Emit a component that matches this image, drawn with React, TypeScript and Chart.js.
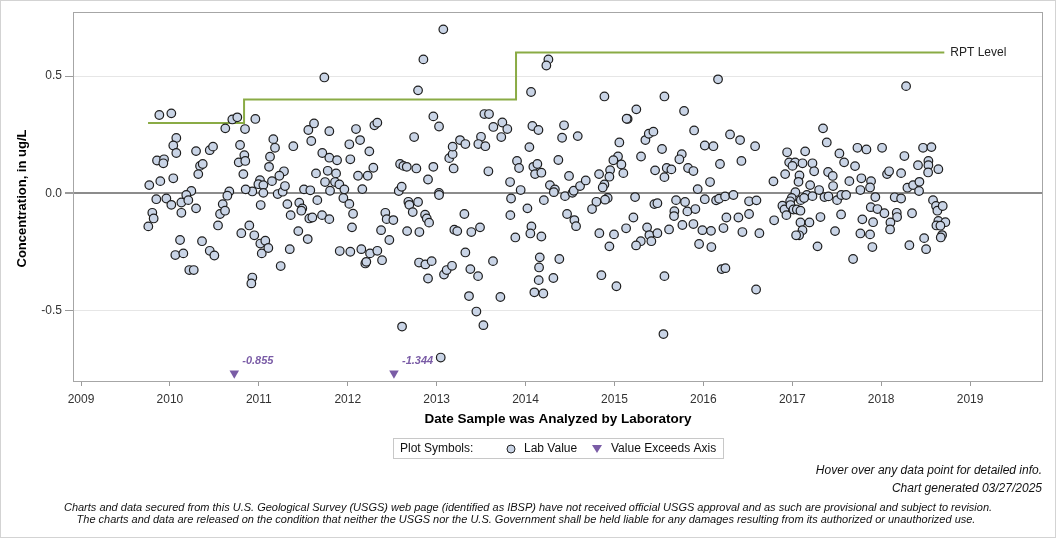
import React, { useEffect, useRef } from "react";
import { Chart, registerables } from "chart.js";

Chart.register(...registerables);

// Lab results: analysis date (decimal year) and concentration (ug/L)
const analysisDates: number[] = [
  2009.881, 2010.016, 2010.072, 2010.038, 2010.072, 2010.294, 2009.855, 2009.934, 2009.926, 2010.339,
  2010.369, 2010.319, 2010.038, 2009.768, 2009.892, 2010.241, 2010.184, 2009.847, 2009.960, 2010.016,
  2010.129, 2010.207, 2010.294, 2010.129, 2009.802, 2009.817, 2009.757, 2010.114, 2010.361, 2010.061,
  2010.151, 2010.218, 2010.268,
  2011.737, 2010.702, 2010.758, 2010.623, 2010.845, 2010.961, 2011.557, 2011.621, 2011.793, 2011.163,
  2011.182, 2011.388, 2011.590, 2010.789, 2010.448, 2010.485, 2010.837, 2010.774, 2010.848, 2011.126,
  2011.115, 2010.826, 2011.283, 2011.231, 2011.148, 2011.714, 2011.643, 2011.775, 2011.745, 2011.013,
  2010.995, 2011.051, 2011.051, 2010.927, 2010.852, 2010.668, 2010.646, 2011.212, 2011.268, 2011.294,
  2011.508, 2011.579, 2011.801, 2010.594, 2010.564, 2010.620, 2011.021, 2011.321, 2011.358, 2011.455,
  2011.489, 2011.478, 2011.658, 2011.568, 2011.602, 2011.711, 2011.793, 2010.541, 2010.803, 2010.893,
  2010.949, 2011.017, 2011.073, 2011.033, 2011.107, 2011.444, 2011.550, 2011.348, 2011.246, 2010.448,
  2010.500, 2010.927, 2010.916,
  2013.075, 2012.851, 2012.791, 2012.963, 2013.027, 2012.747, 2012.300, 2012.333, 2012.093, 2012.018,
  2012.139, 2012.243, 2012.029, 2011.793, 2011.880, 2011.869, 2011.857, 2011.906, 2011.962, 2012.116,
  2012.225, 2012.288, 2012.164, 2011.951, 2012.018, 2012.060, 2012.048, 2011.910, 2012.029, 2012.153,
  2012.251, 2012.333, 2012.198, 2012.209, 2012.386, 2012.375, 2012.468, 2012.423, 2012.438, 2012.513,
  2012.574, 2012.607, 2012.589, 2012.626, 2012.664, 2012.772, 2012.903, 2012.963, 2013.027, 2013.027,
  2012.682, 2012.693, 2012.731, 2012.791, 2012.870, 2012.889, 2012.915, 2012.668, 2012.806, 2012.802,
  2012.873, 2012.944, 2012.903, 2013.083, 2013.113, 2013.173, 2013.199, 2012.611, 2013.046, 2013.142,
  2013.180, 2013.180, 2013.191,
  2014.257, 2014.234, 2014.062, 2013.537, 2013.589, 2013.638, 2013.739, 2013.795, 2013.727, 2014.077,
  2014.145, 2014.433, 2014.411, 2014.587, 2013.263, 2013.323, 2013.499, 2013.469, 2013.548, 2013.582,
  2014.043, 2013.904, 2013.927, 2014.088, 2014.133, 2014.107, 2014.178, 2014.369, 2014.489, 2013.826,
  2013.945, 2013.837, 2014.206, 2014.274, 2014.330, 2014.318, 2014.444, 2014.527, 2014.542, 2014.613,
  2014.021, 2013.829, 2013.312, 2013.232, 2013.390, 2013.488, 2013.885, 2014.066, 2014.054, 2014.178,
  2014.467, 2014.549, 2014.568, 2013.323, 2013.634, 2013.379, 2013.466, 2014.160, 2014.152, 2014.148,
  2014.099, 2014.200, 2014.380, 2014.313, 2013.364, 2013.717, 2013.447, 2013.526,
  2014.887, 2015.562, 2015.246, 2015.148, 2015.137, 2015.783, 2015.896, 2016.016, 2015.348, 2015.386,
  2015.438, 2015.055, 2015.535, 2015.040, 2014.988, 2015.078, 2015.100, 2015.299, 2014.951, 2014.943,
  2014.887, 2014.868, 2014.827, 2014.677, 2015.457, 2015.562, 2015.588, 2015.640, 2015.757, 2015.730,
  2015.828, 2015.888, 2015.936, 2016.016, 2015.232, 2014.924, 2014.894, 2014.797, 2014.748, 2015.449,
  2015.483, 2015.693, 2015.794, 2015.674, 2015.670, 2015.820, 2015.910, 2015.213, 2015.131, 2014.830,
  2014.995, 2014.943, 2015.367, 2015.393, 2015.483, 2015.296, 2015.243, 2015.415, 2015.614, 2015.764,
  2015.888, 2015.989, 2015.952, 2014.853, 2015.022, 2015.562, 2015.551,
  2016.165, 2016.300, 2016.413, 2016.113, 2016.582, 2016.187, 2016.428, 2016.075, 2016.143, 2016.177,
  2016.244, 2016.338, 2016.086, 2016.090, 2016.259, 2016.226, 2016.394, 2016.514, 2016.597, 2016.514,
  2016.439, 2016.630, 2016.206, 2016.248, 2016.593, 2016.788, 2016.796, 2016.942, 2016.920, 2016.965,
  2017.032, 2017.002, 2017.115, 2017.145, 2017.227, 2017.246, 2017.081, 2017.070, 2017.201, 2017.403,
  2017.346, 2017.388, 2017.035, 2016.994, 2017.096, 2017.164, 2017.227, 2017.302, 2017.362, 2017.407,
  2017.133, 2016.889, 2016.912, 2016.934, 2016.976, 2016.980, 2017.013, 2017.051, 2017.092, 2017.092,
  2017.193, 2017.115, 2017.077, 2017.043, 2017.317, 2017.284,
  2018.280, 2017.530, 2017.583, 2017.733, 2017.834, 2018.010, 2017.706, 2018.261, 2018.471, 2018.565,
  2018.531, 2018.531, 2018.643, 2018.414, 2018.528, 2017.455, 2017.459, 2017.642, 2017.777, 2017.886,
  2017.875, 2017.766, 2018.066, 2018.089, 2018.224, 2018.295, 2018.359, 2018.430, 2018.426, 2017.504,
  2017.552, 2017.605, 2017.934, 2018.152, 2018.224, 2018.583, 2018.617, 2018.632, 2018.692, 2018.347,
  2017.883, 2017.958, 2018.036, 2018.175, 2018.179, 2018.104, 2018.100, 2017.549, 2017.788, 2017.909,
  2017.481, 2017.766, 2017.875, 2017.901, 2017.684, 2018.317, 2018.483, 2018.505, 2018.643, 2018.722,
  2018.621, 2018.666, 2018.685, 2018.670,
];

const labValues: number[] = [
  0.334, 0.341, 0.236, 0.204, 0.172, 0.180, 0.140, 0.145, 0.128, 0.117,
  0.125, 0.082, 0.064, 0.035, 0.052, 0.010, -0.007, -0.025, -0.022, -0.049,
  -0.039, -0.029, -0.064, -0.083, -0.083, -0.107, -0.141, -0.199, -0.204, -0.263,
  -0.256, -0.327, -0.327,
  0.494, 0.315, 0.324, 0.277, 0.274, 0.317, 0.270, 0.298, 0.265, 0.231,
  0.194, 0.201, 0.223, 0.206, 0.184, 0.199, 0.163, 0.132, 0.138, 0.156,
  0.113, 0.082, 0.094, 0.075, 0.052, 0.172, 0.085, 0.096, 0.048, 0.056,
  0.039, 0.035, 0.002, 0.008, 0.017, 0.008, -0.010, -0.003, 0.007, 0.031,
  0.017, 0.013, 0.011, -0.046, -0.088, -0.074, -0.050, -0.046, -0.093, -0.040,
  -0.064, -0.074, -0.029, -0.107, -0.103, -0.093, -0.110, -0.137, -0.170, -0.137,
  -0.179, -0.214, -0.202, -0.256, -0.233, -0.161, -0.195, -0.238, -0.310, -0.245,
  -0.265, -0.359, -0.384,
  0.699, 0.571, 0.439, 0.328, 0.285, 0.240, 0.290, 0.301, 0.274, 0.209,
  0.227, 0.179, 0.145, 0.152, 0.141, 0.085, 0.048, 0.038, 0.017, 0.075,
  0.075, 0.109, 0.018, -0.020, -0.045, -0.087, -0.145, -0.246, -0.249, -0.238,
  -0.256, -0.245, -0.299, -0.292, -0.285, -0.157, -0.199, -0.083, -0.110, -0.114,
  0.010, 0.028, 0.125, 0.117, 0.113, 0.106, 0.059, 0.113, 0.002, -0.007,
  -0.036, -0.049, -0.080, -0.037, -0.091, -0.107, -0.125, -0.161, -0.165, -0.295,
  -0.303, -0.289, -0.363, -0.346, -0.327, -0.309, -0.155, -0.568, -0.700, 0.150,
  0.167, 0.199, 0.106,
  0.571, 0.545, 0.432, 0.338, 0.338, 0.283, 0.302, 0.274, 0.240, 0.287,
  0.270, 0.290, 0.237, 0.244, 0.227, 0.210, 0.241, 0.210, 0.201, 0.094,
  0.197, 0.138, 0.108, 0.113, 0.125, 0.082, 0.088, 0.142, 0.074, 0.048,
  0.014, -0.022, -0.029, 0.035, 0.017, 0.005, -0.012, 0.002, 0.011, 0.031,
  -0.064, -0.093, -0.088, -0.161, -0.165, -0.145, -0.188, -0.141, -0.171, -0.184,
  -0.088, -0.114, -0.140, -0.252, -0.289, -0.323, -0.353, -0.273, -0.316, -0.370,
  -0.422, -0.427, -0.280, -0.361, -0.438, -0.442, -0.504, -0.562,
  0.413, 0.413, 0.358, 0.317, 0.318, 0.351, 0.268, 0.204, 0.227, 0.254,
  0.263, 0.217, 0.189, 0.157, 0.141, 0.123, 0.086, 0.157, 0.099, 0.071,
  0.038, 0.025, 0.082, 0.055, 0.098, 0.069, 0.108, 0.102, 0.167, 0.145,
  0.108, 0.095, 0.018, -0.025, -0.016, -0.020, -0.027, -0.036, -0.067, -0.046,
  -0.042, -0.029, -0.037, -0.076, -0.097, -0.077, -0.067, -0.103, -0.149, -0.170,
  -0.175, -0.226, -0.145, -0.178, -0.170, -0.204, -0.222, -0.204, -0.154, -0.135,
  -0.131, -0.157, -0.216, -0.349, -0.396, -0.353, -0.600,
  0.486, 0.251, 0.227, 0.201, 0.201, 0.125, 0.138, 0.048, -0.030, -0.023,
  -0.013, -0.007, -0.160, -0.229, -0.103, -0.148, -0.103, -0.034, -0.030, -0.088,
  -0.165, -0.170, -0.323, -0.319, -0.410, 0.051, -0.115, 0.175, 0.082, 0.132,
  0.132, 0.117, 0.128, 0.179, 0.128, 0.094, 0.076, 0.049, 0.035, 0.091,
  0.277, 0.217, 0.005, -0.020, -0.029, -0.007, -0.012, 0.014, -0.016, -0.013,
  -0.020, -0.053, -0.069, -0.093, -0.034, -0.050, -0.069, -0.069, -0.074, -0.124,
  -0.124, -0.157, -0.179, -0.179, -0.101, -0.226,
  0.457, 0.170, 0.132, 0.194, 0.187, 0.194, 0.116, 0.159, 0.194, 0.197,
  0.138, 0.120, 0.103, 0.120, 0.089, 0.074, 0.031, 0.052, 0.064, 0.052,
  0.025, 0.014, 0.082, 0.094, 0.086, 0.024, 0.035, 0.049, 0.010, -0.029,
  -0.007, -0.007, -0.016, -0.017, -0.022, -0.029, -0.054, -0.074, -0.054, -0.085,
  -0.059, -0.067, -0.085, -0.083, -0.101, -0.124, -0.154, -0.090, -0.111, -0.123,
  -0.161, -0.171, -0.175, -0.229, -0.280, -0.221, -0.191, -0.238, -0.118, -0.123,
  -0.137, -0.138, -0.178, -0.188,
];

// Results below the axis floor
const exceedDates: number[] = [2010.724, 2012.52];
const exceedValues: number[] = [-0.855, -1.344];

// Reporting level steps
const rptStarts: number[] = [2009.754, 2010.834, 2013.893];
const rptEnds: number[] = [2010.834, 2013.893, 2018.71];
const rptLevels: number[] = [0.3, 0.4, 0.6];

const yearTicks: number[] = [2009, 2010, 2011, 2012, 2013, 2014, 2015, 2016, 2017, 2018, 2019];
const valueTicks: number[] = [-0.5, 0, 0.5];

const X_MIN = 2008.91;
const X_MAX = 2019.82;
const Y_MIN = -0.8;
const Y_MAX = 0.773;
const EXCEED_FLOOR = -0.767;

const FONT = "'Liberation Sans', Arial, sans-serif";
const PURPLE = "#7a5ca6";
const GREEN = "#8aab45";

const decorations = {
  id: "decorations",
  beforeDraw(chart: any) {
    const { ctx, width, height } = chart;
    ctx.save();
    ctx.fillStyle = "#ffffff";
    ctx.fillRect(0, 0, width, height);
    ctx.restore();
  },
  afterDatasetsDraw(chart: any) {
    const { ctx } = chart;
    const meta = chart.getDatasetMeta(2);
    ctx.save();
    ctx.fillStyle = PURPLE;
    ctx.font = `italic bold 11px ${FONT}`;
    ctx.textAlign = "left";
    ctx.textBaseline = "middle";
    meta.data.forEach((el: any, i: number) => {
      ctx.fillText(exceedValues[i].toFixed(3), el.x + 8, el.y - 12);
    });
    // RPT label at the end of the step line
    const xs = chart.scales.x;
    const ys = chart.scales.y;
    ctx.fillStyle = "#222";
    ctx.font = `12px ${FONT}`;
    ctx.fillText("RPT Level", xs.getPixelForValue(rptEnds[rptEnds.length - 1]) + 6, ys.getPixelForValue(rptLevels[rptLevels.length - 1]));
    ctx.restore();
  },
  afterDraw(chart: any) {
    const { ctx, chartArea: a, width, height } = chart;
    ctx.save();
    // plot frame
    ctx.strokeStyle = "#a6a6a6";
    ctx.lineWidth = 1;
    ctx.strokeRect(Math.round(a.left) + 0.5, Math.round(a.top) + 0.5, Math.round(a.right - a.left) - 1, Math.round(a.bottom - a.top));
    // outer border
    ctx.strokeStyle = "#d3d3d3";
    ctx.strokeRect(0.5, 0.5, width - 1, height - 1);

    // axis titles
    ctx.fillStyle = "#000";
    ctx.font = `bold 13.5px ${FONT}`;
    ctx.textAlign = "center";
    ctx.textBaseline = "middle";
    ctx.fillText("Date Sample was Analyzed by Laboratory", (a.left + a.right) / 2, 419);
    ctx.save();
    ctx.translate(22, (a.top + a.bottom) / 2 + 2);
    ctx.rotate(-Math.PI / 2);
    ctx.font = `bold 13px ${FONT}`;
    ctx.fillText("Concentration, in ug/L", 0, 0);
    ctx.restore();

    // plot symbols key
    ctx.strokeStyle = "#c8c8c8";
    ctx.strokeRect(393.5, 438.5, 330, 20);
    ctx.fillStyle = "#111";
    ctx.font = `12px ${FONT}`;
    ctx.textAlign = "left";
    ctx.fillText("Plot Symbols:", 400, 449);
    ctx.beginPath();
    ctx.arc(511, 449, 4, 0, Math.PI * 2);
    ctx.fillStyle = "#c9d4e6";
    ctx.fill();
    ctx.strokeStyle = "#222";
    ctx.stroke();
    ctx.fillStyle = "#111";
    ctx.fillText("Lab Value", 524, 449);
    ctx.beginPath();
    ctx.moveTo(592, 445);
    ctx.lineTo(602, 445);
    ctx.lineTo(597, 453);
    ctx.closePath();
    ctx.fillStyle = PURPLE;
    ctx.fill();
    ctx.fillStyle = "#111";
    ctx.fillText("Value Exceeds Axis", 611, 449);

    // notes
    ctx.font = `italic 12px ${FONT}`;
    ctx.textAlign = "right";
    ctx.fillText("Hover over any data point for detailed info.", 1042, 471);
    ctx.fillText("Chart generated 03/27/2025", 1042, 489);
    ctx.font = `italic 11px ${FONT}`;
    ctx.textAlign = "center";
    ctx.fillText(
      "Charts and data secured from this U.S. Geological Survey (USGS) web page (identified as IBSP) have not received official USGS approval and as such are provisional and subject to revision.",
      528, 508
    );
    ctx.fillText(
      "The charts and data are released on the condition that neither the USGS nor the U.S. Government shall be held liable for any damages resulting from its authorized or unauthorized use.",
      526, 520
    );
    ctx.restore();
  },
};

export default function App() {
  const canvasRef = useRef<HTMLCanvasElement | null>(null);

  useEffect(() => {
    const canvas = canvasRef.current;
    if (!canvas) return;

    const labPoints = analysisDates.map((d, i) => ({ x: d, y: labValues[i] }));
    const exceedPoints = exceedDates.map((d, i) => ({ x: d, y: Math.max(exceedValues[i], EXCEED_FLOOR) }));
    const rptPoints: { x: number; y: number }[] = [];
    rptLevels.forEach((lvl, i) => {
      rptPoints.push({ x: rptStarts[i], y: lvl });
      rptPoints.push({ x: rptEnds[i], y: lvl });
    });

    const chart = new Chart(canvas, {
      type: "scatter",
      data: {
        datasets: [
          {
            label: "Lab Value",
            data: labPoints,
            pointRadius: 4.3,
            pointBorderWidth: 1.2,
            pointBackgroundColor: "#c9d4e6",
            pointBorderColor: "#1e1e1e",
            order: 0,
          },
          {
            label: "RPT Level",
            data: rptPoints,
            showLine: true,
            borderColor: GREEN,
            borderWidth: 2,
            pointRadius: 0,
            fill: false,
            order: 2,
          },
          {
            label: "Value Exceeds Axis",
            data: exceedPoints,
            pointStyle: "triangle",
            rotation: 180,
            pointRadius: 5.5,
            pointBackgroundColor: PURPLE,
            pointBorderColor: PURPLE,
            pointBorderWidth: 0,
            order: 1,
          },
        ],
      },
      options: {
        animation: false,
        responsive: false,
        maintainAspectRatio: false,
        layout: { padding: { left: 0, top: 12, right: 13, bottom: 0 } },
        plugins: {
          legend: { display: false },
          tooltip: { enabled: false },
        },
        scales: {
          x: {
            type: "linear",
            min: X_MIN,
            max: X_MAX,
            afterBuildTicks: (scale: any) => {
              scale.ticks = yearTicks.map((v) => ({ value: v }));
            },
            afterFit: (scale: any) => {
              scale.height = 157;
            },
            grid: {
              drawOnChartArea: false,
              drawTicks: true,
              tickLength: 5,
              tickColor: "#9a9a9a",
              color: "#9a9a9a",
            },
            border: { display: false },
            ticks: {
              autoSkip: false,
              maxRotation: 0,
              padding: 6,
              color: "#333",
              font: { family: FONT, size: 12 },
              callback: (v: any) => String(v),
            },
          },
          y: {
            type: "linear",
            min: Y_MIN,
            max: Y_MAX,
            afterBuildTicks: (scale: any) => {
              scale.ticks = valueTicks.map((v) => ({ value: v }));
            },
            afterFit: (scale: any) => {
              scale.width = 73;
            },
            grid: {
              color: (c: any) => (c.tick && c.tick.value === 0 ? "#8c8c8c" : "#e6e6e6"),
              lineWidth: (c: any) => (c.tick && c.tick.value === 0 ? 2 : 1),
              tickColor: "#9a9a9a",
              tickLength: 8,
            },
            border: { display: false },
            ticks: {
              padding: 3,
              color: "#333",
              font: { family: FONT, size: 12 },
              callback: (v: any) => Number(v).toFixed(1),
            },
          },
        },
      },
      plugins: [decorations],
    });

    return () => chart.destroy();
  }, []);

  return (
    <div style={{ position: "absolute", left: 0, top: 0, width: 1056, height: 538 }}>
      <canvas ref={canvasRef} width={1056} height={538} style={{ width: 1056, height: 538 }} />
    </div>
  );
}
